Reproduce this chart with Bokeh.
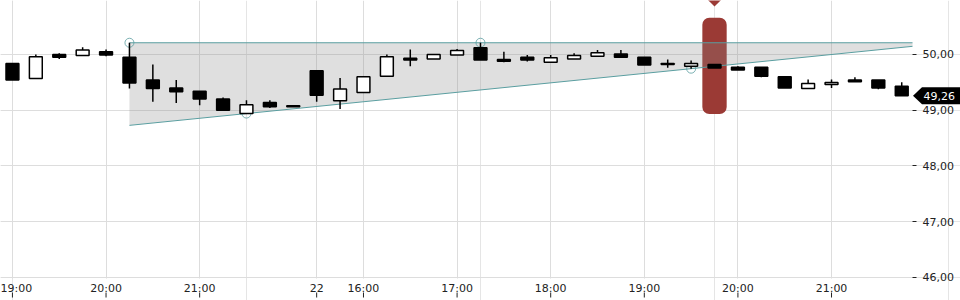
from bokeh.plotting import figure
from bokeh.models import Range1d, FixedTicker, LinearAxis, Label, Grid
from bokeh.embed import file_html
from bokeh.resources import INLINE

# ---- data (15-minute candles) ----
opens = [49.84, 49.57, 50.00, 49.98, 50.05, 49.95, 49.54, 49.40, 49.34, 49.20,
         48.94, 49.14, 49.08, 49.71, 49.17, 49.32, 49.61, 49.93, 49.92, 49.99,
         50.12, 49.91, 49.95, 49.86, 49.92, 49.97, 50.01, 49.95, 49.84, 49.79,
         49.82, 49.77, 49.77, 49.60, 49.39, 49.46, 49.54, 49.54, 49.43]
highs = [49.84, 50.00, 50.02, 50.13, 50.09, 50.21, 49.82, 49.54, 49.34, 49.23,
         49.18, 49.18, 49.08, 49.71, 49.58, 49.60, 50.00, 50.09, 50.00, 50.10,
         50.21, 50.05, 49.99, 49.99, 50.02, 50.08, 50.08, 49.95, 49.91, 49.89,
         49.82, 49.79, 49.77, 49.60, 49.55, 49.55, 49.59, 49.54, 49.50]
lows = [49.54, 49.57, 49.92, 49.98, 49.97, 49.39, 49.15, 49.13, 49.09, 49.00,
        48.94, 49.04, 49.06, 49.15, 49.02, 49.32, 49.60, 49.79, 49.92, 49.99,
        49.90, 49.86, 49.875, 49.845, 49.92, 49.97, 49.95, 49.81, 49.76, 49.745,
        49.755, 49.72, 49.59, 49.40, 49.39, 49.40, 49.51, 49.375, 49.26]
closes = [49.54, 49.96, 49.95, 50.08, 49.99, 49.49, 49.39, 49.33, 49.20, 49.00,
          49.10, 49.06, 49.06, 49.27, 49.38, 49.60, 49.96, 49.90, 50.00, 50.07,
          49.90, 49.88, 49.90, 49.94, 49.98, 50.03, 49.95, 49.81, 49.82, 49.84,
          49.755, 49.72, 49.61, 49.40, 49.48, 49.495, 49.51, 49.40, 49.26]
idx = list(range(len(opens)))

tick_idx = [0, 4, 8, 13, 15, 19, 23, 27, 31, 35]
tick_labels = ["19:00", "20:00", "21:00", "22", "16:00", "17:00", "18:00", "19:00", "20:00", "21:00"]
y_ticks = [46, 47, 48, 49, 50]
y_labels = ["46,00", "47,00", "48,00", "49,00", "50,00"]

# triangle pattern anchors (candle indices)
tri_top = [5, 20]        # touching highs
tri_bottom = [10, 29]    # touching lows
highlight_index = 30
last_label = "49,26"

FONT = "DejaVu Sans"
TEAL = "#5a9ea0"
RED = "#9b3a35"
GRID = "#dddddd"
TICK = "#222222"

FW, FH = 960, 300
x0 = -0.51
x_axis = 38.46                      # price axis sits at the right edge of the candle area
xpx = 912 / (x_axis - x0)           # pixels per candle
x1 = x0 + FW / xpx
y1 = 50.968
ypx = 55.75                         # pixels per price unit
y_base = y1 - 278 / ypx             # bottom edge of the candle area
y0 = y1 - FH / ypx

p = figure(frame_width=FW, frame_height=FH, output_backend="svg", toolbar_location=None,
           x_range=Range1d(x0, x1), y_range=Range1d(y0, y1),
           x_axis_location=None, y_axis_location=None, min_border=0,
           outline_line_color=None)

xt = FixedTicker(ticks=tick_idx)
yt = FixedTicker(ticks=y_ticks)
p.add_layout(Grid(dimension=0, ticker=xt, grid_line_color=GRID, cross_bounds=(y_base, y1)))
p.add_layout(Grid(dimension=1, ticker=yt, grid_line_color=GRID, cross_bounds=(x0, x_axis)))

# red highlight bar
p.quad(left=[highlight_index - 0.52], right=[highlight_index + 0.52], top=[50.66], bottom=[48.93],
       fill_color=RED, line_color=None, border_radius=7)
p.scatter([highlight_index], [y1 + 1.0 / ypx], marker="square", angle=0.785398, size=10,
          fill_color=RED, line_color=None)

# triangle
top_val = highs[tri_top[0]]
b0, b1 = tri_bottom
slope = (lows[b1] - lows[b0]) / (b1 - b0)
def lower(x):
    return lows[b0] + slope * (x - b0)
p.patch([tri_top[0], x_axis, x_axis, tri_top[0]],
        [top_val, top_val, lower(x_axis), lower(tri_top[0])],
        fill_color="#888888", fill_alpha=0.27, line_color=None)
p.line([tri_top[0], x_axis], [top_val, top_val], line_color=TEAL, line_width=1)
p.line([tri_top[0], x_axis], [lower(tri_top[0]), lower(x_axis)], line_color=TEAL, line_width=1)
cx = tri_top + tri_bottom
cy = [highs[i] for i in tri_top] + [lows[i] for i in tri_bottom]
p.scatter(cx, cy, marker="circle", size=9, fill_color=None, line_color=TEAL, line_width=1, line_alpha=0.8)

# candles
p.segment(idx, highs, idx, lows, line_color="black", line_width=1.5)
tops = [max(o, c) for o, c in zip(opens, closes)]
bots = [min(o, c) for o, c in zip(opens, closes)]
fills = ["white" if c > o else "black" for o, c in zip(opens, closes)]
p.vbar(x=idx, top=tops, bottom=bots, width=0.55, fill_color=fills, line_color="black", line_width=1.5)

# last price marker (arrow box right of the price axis)
c = closes[-1]
ax = x_axis + 0.5 / xpx
bx = x_axis + 9.5 / xpx
h = 8.5 / ypx
p.patch([ax, bx, x1, x1, bx], [c, c + h, c + h, c - h, c - h], fill_color="black", line_color=None)
p.add_layout(Label(x=x_axis, y=c, x_offset=11, y_offset=-0.5, text=last_label, text_color="white",
                   text_font=FONT, text_font_size="11px", text_baseline="middle", text_align="left"))

# small time tick marks below the time labels
t_top = y_base - 14 / ypx
t_bot = y_base - 19 / ypx
p.segment(tick_idx, [t_top] * len(tick_idx), tick_idx, [t_bot] * len(tick_idx),
          line_color=TICK, line_width=1)

# axes
ya = LinearAxis(ticker=yt, major_label_overrides=dict(zip(y_ticks, y_labels)), fixed_location=x_axis,
                axis_line_color=None, major_tick_in=0, major_tick_out=4,
                major_tick_line_color=TICK, minor_tick_line_color=None,
                major_label_text_font=FONT, major_label_text_font_size="11px",
                major_label_text_color=TICK, major_label_standoff=6)
p.add_layout(ya, "right")

xa = LinearAxis(ticker=xt, major_label_overrides=dict(zip(tick_idx, tick_labels)), fixed_location=y_base,
                axis_line_color=None, major_tick_in=0, major_tick_out=3,
                major_tick_line_color=None, minor_tick_line_color=None,
                major_label_text_font=FONT, major_label_text_font_size="11px",
                major_label_text_color=TICK, major_label_standoff=0)
p.add_layout(xa, "below")

open("out.html", "w").write(file_html(p, INLINE))
